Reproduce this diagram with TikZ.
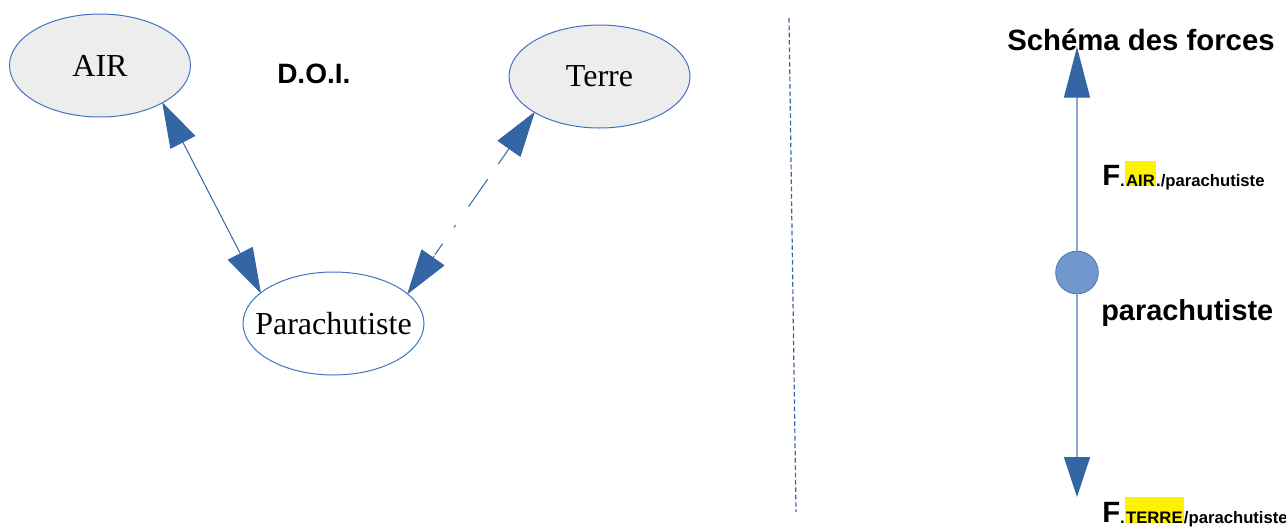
\documentclass[tikz,border=0pt]{standalone}
\usepackage{fontspec}
\setmainfont{Liberation Serif}
\newfontfamily\arial{Liberation Sans}
\usetikzlibrary{arrows.meta,shapes.geometric}
\definecolor{linkblue}{RGB}{52,101,164}
\definecolor{edgeblue}{RGB}{68,114,196}
\definecolor{bubblegrey}{RGB}{237,237,237}
\definecolor{forceline}{RGB}{135,166,212}
\definecolor{dotfill}{RGB}{112,152,205}
\definecolor{dotedge}{RGB}{74,116,176}
\definecolor{dividerblue}{RGB}{60,98,160}
% yellow highlight behind a word, reaching #1 above the baseline
\newcommand{\hlword}[2]{{\setlength{\fboxsep}{0pt}\colorbox{yellow}{\kern1pt\rule{0pt}{#1}#2\kern1pt}}}

\begin{document}
\begin{tikzpicture}[x=0.75pt,y=-0.75pt,
  bubble/.style={ellipse,draw=edgeblue,line width=0.75pt,
    minimum width=135.75pt,minimum height=77.25pt,inner sep=0pt,
    font=\fontsize{24}{28}\selectfont},
  bigtip/.tip={Triangle[length=34pt,width=21pt,round]},
  link/.style={draw=linkblue,line width=0.75pt,bigtip-bigtip},
  dashlink/.style={link,dash pattern=on 14pt off 14pt on 25pt off 17pt on 2pt off 15pt on 10pt off 1pt},
  forcetip/.tip={Triangle[length=38pt,width=19.5pt,color=linkblue]},
  force/.style={draw=forceline,line width=1pt,-forcetip},
  label/.style={anchor=base west,inner sep=0pt,font=\arial\bfseries},
]
\useasboundingbox (0,0) rectangle (1286,526);

% interaction diagram (D.O.I.)
\node[bubble,fill=bubblegrey] (air)   at (100,65.5)   {AIR};
\node[bubble,fill=bubblegrey] (terre) at (599.5,76.5) {Terre};
\node[bubble,fill=white,inner xsep=-12pt] (para) at (333.5,323.5) {Parachutiste};
\node[label,font=\arial\bfseries\fontsize{21}{25}\selectfont] (doi) at (277,83) {D.O.I.};

\draw[link]     (air.-31)    -- (para.157);
\draw[dashlink] (terre.209.5) -- (para.22.5);

% separation line
\coordinate (dtop) at (789,18);
\coordinate (dbot) at (796,512);
\draw[dividerblue,line width=0.9pt,dash pattern=on 3.5pt off 2pt] (dtop) -- (dbot);

% force diagram
\node[label,font=\arial\bfseries\fontsize{22}{26}\selectfont] (title) at (1007,50) {Schéma des forces};
\node[circle,draw=dotedge,fill=dotfill,line width=0.6pt,minimum size=32pt,inner sep=0pt] (dot) at (1077,272.5) {};
\coordinate (ftop) at (1077,47);
\coordinate (fbot) at (1077,497);
\draw[force] (dot) -- (ftop);
\draw[force,-{Triangle[length=30pt,width=19.5pt,color=linkblue]}] (dot) -- (fbot);

\node[label,font=\arial\bfseries\fontsize{21.7}{26}\selectfont] (obj) at (1101,320) {parachutiste};
\node[label] (fair) at (1102,185)
  {\fontsize{22}{26}\selectfont F\raisebox{-1pt}{\fontsize{12.5}{15}\selectfont .\hlword{19pt}{AIR}./parachutiste}};
\node[label] (fterre) at (1102,522)
  {\fontsize{22}{26}\selectfont F\raisebox{-1pt}{\fontsize{12.5}{15}\selectfont .\hlword{20pt}{TERRE}/parachutiste}};
\end{tikzpicture}
\end{document}
